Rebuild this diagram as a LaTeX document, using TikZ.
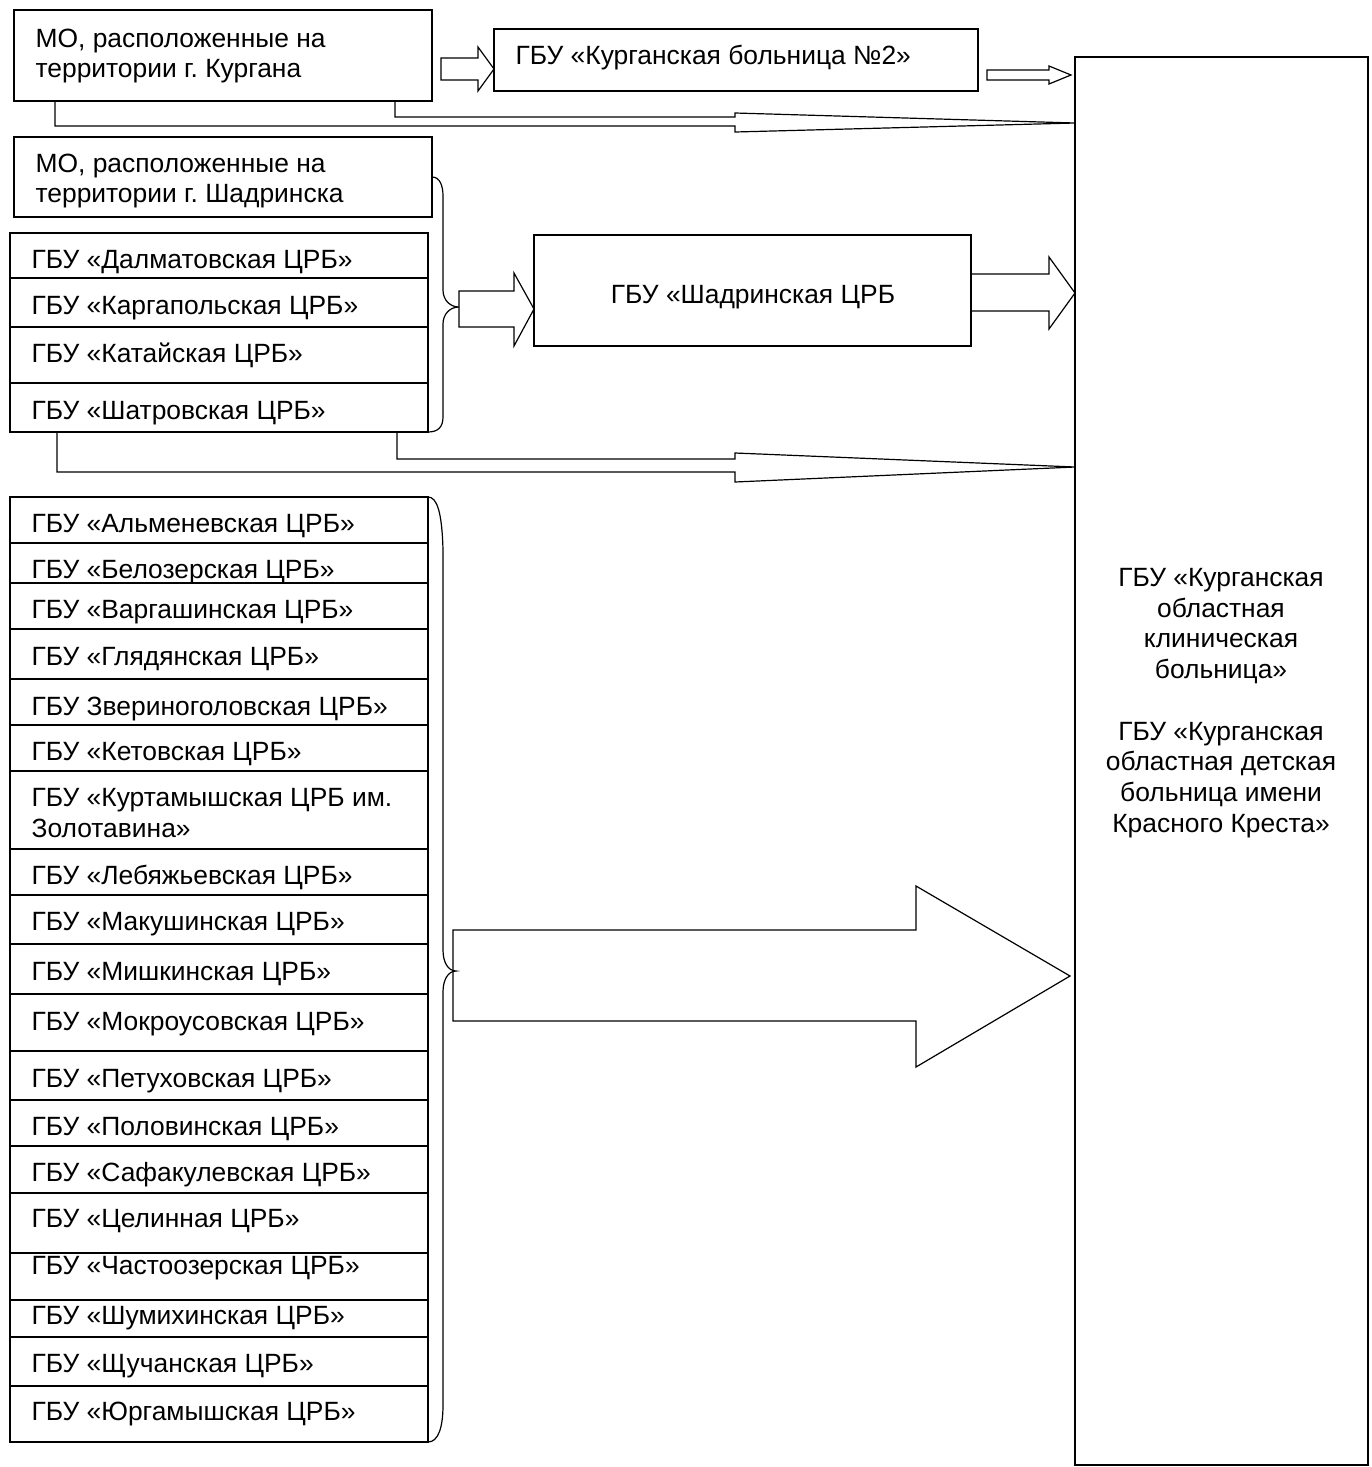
\documentclass[tikz,border=0pt]{standalone}
\usepackage{fontspec}
\setmainfont{Liberation Sans}
\frenchspacing
\begin{document}
\begin{tikzpicture}[x=1pt,y=-1pt,line width=1.2pt,
  box/.style={draw,rectangle,anchor=north west,inner sep=0pt,outer sep=0pt},
  row/.style={box,minimum width=418pt},
  lbl/.style={inner sep=0pt,anchor=base west,font=\fontsize{26.4}{30.5}\selectfont},
  lbl2/.style={inner sep=0pt,anchor=north west,align=left,font=\fontsize{26.4}{30.5}\selectfont},
  txt/.style={align=center,inner sep=0pt,font=\fontsize{26.4}{30.7}\selectfont},
  blockarrow/.style={draw,line join=miter},
  thinarrow/.style={draw,line join=miter},
  bracepath/.style={draw}]
\useasboundingbox (0,0) rectangle (1371,1467);

% ---- top boxes
\node[row,minimum height=91pt] (kurgan) at (14,10) {};
\node[lbl2] (tkurgan) at (35,28) {МО, расположенные на\\территории г. Кургана};
\node[box,minimum width=484pt,minimum height=62pt] (kb2) at (494,29) {};
\node[lbl] (tkb2) at (515,64) {ГБУ «Курганская больница №2»};
\node[box,minimum width=293pt,minimum height=1408pt] (kokb) at (1075,57) {};
\node[txt] (kokbtxt) at (1221,703) {ГБУ «Курганская\\областная\\клиническая\\больница»\\[30.7pt]ГБУ «Курганская\\областная детская\\больница имени\\Красного Креста»};

\node[row,minimum height=80pt] (shadmo) at (14,137) {};
\node[lbl2] (tshadmo) at (35,153) {МО, расположенные на\\территории г. Шадринска};

% ---- list 1
\node[row,minimum height=45pt] (r1) at (10,233) {};
\node[row,minimum height=49pt] (r2) at (10,278) {};
\node[row,minimum height=56pt] (r3) at (10,327) {};
\node[row,minimum height=49pt] (r4) at (10,383) {};
\node[lbl] (tr1) at (31,268) {ГБУ «Далматовская ЦРБ»};
\node[lbl] (tr2) at (31,314) {ГБУ «Каргапольская ЦРБ»};
\node[lbl] (tr3) at (31,362) {ГБУ «Катайская ЦРБ»};
\node[lbl] (tr4) at (31,419) {ГБУ «Шатровская ЦРБ»};

\node[box,minimum width=437pt,minimum height=111pt] (shadcrb) at (534,235) {};
\node[lbl,anchor=base] (tshadcrb) at (753,303) {ГБУ «Шадринская ЦРБ};

% ---- list 2
\node[row,minimum height=46pt] (s1) at (10,497) {};
\node[row,minimum height=40pt] (s2) at (10,543) {};
\node[row,minimum height=46pt] (s3) at (10,583) {};
\node[row,minimum height=50pt] (s4) at (10,629) {};
\node[row,minimum height=46pt] (s5) at (10,679) {};
\node[row,minimum height=46pt] (s6) at (10,725) {};
\node[row,minimum height=78pt] (s7) at (10,771) {};
\node[row,minimum height=46pt] (s8) at (10,849) {};
\node[row,minimum height=49pt] (s9) at (10,895) {};
\node[row,minimum height=50pt] (s10) at (10,944) {};
\node[row,minimum height=57pt] (s11) at (10,994) {};
\node[row,minimum height=49pt] (s12) at (10,1051) {};
\node[row,minimum height=46pt] (s13) at (10,1100) {};
\node[row,minimum height=47pt] (s14) at (10,1146) {};
\node[row,minimum height=60pt] (s15) at (10,1193) {};
\node[row,minimum height=47pt] (s16) at (10,1253) {};
\node[row,minimum height=37pt] (s17) at (10,1300) {};
\node[row,minimum height=49pt] (s18) at (10,1337) {};
\node[row,minimum height=56pt] (s19) at (10,1386) {};

\node[lbl] (ts1) at (31,532) {ГБУ «Альменевская ЦРБ»};
\node[lbl] (ts2) at (31,578) {ГБУ «Белозерская ЦРБ»};
\node[lbl] (ts3) at (31,618) {ГБУ «Варгашинская ЦРБ»};
\node[lbl] (ts4) at (31,665) {ГБУ «Глядянская ЦРБ»};
\node[lbl] (ts5) at (31,715) {ГБУ Звериноголовская ЦРБ»};
\node[lbl] (ts6) at (31,760) {ГБУ «Кетовская ЦРБ»};
\node[lbl2] (ts7) at (31,788) {ГБУ «Куртамышская ЦРБ им.\\Золотавина»};
\node[lbl] (ts8) at (31,884) {ГБУ «Лебяжьевская ЦРБ»};
\node[lbl] (ts9) at (31,930) {ГБУ «Макушинская ЦРБ»};
\node[lbl] (ts10) at (31,980) {ГБУ «Мишкинская ЦРБ»};
\node[lbl] (ts11) at (31,1030) {ГБУ «Мокроусовская ЦРБ»};
\node[lbl] (ts12) at (31,1087) {ГБУ «Петуховская ЦРБ»};
\node[lbl] (ts13) at (31,1135) {ГБУ «Половинская ЦРБ»};
\node[lbl] (ts14) at (31,1181) {ГБУ «Сафакулевская ЦРБ»};
\node[lbl] (ts15) at (31,1227) {ГБУ «Целинная ЦРБ»};
\node[lbl] (ts16) at (31,1274) {ГБУ «Частоозерская ЦРБ»};
\node[lbl] (ts17) at (31,1324) {ГБУ «Шумихинская ЦРБ»};
\node[lbl] (ts18) at (31,1372) {ГБУ «Щучанская ЦРБ»};
\node[lbl] (ts19) at (31,1420) {ГБУ «Юргамышская ЦРБ»};

% ---- block arrows
\draw[blockarrow] (441,58) -- (478,58) -- (478,47) -- (494,69) -- (478,91) -- (478,80) -- (441,80) -- cycle;
\draw[blockarrow] (987,70) -- (1049,70) -- (1049,66) -- (1071,75) -- (1049,84) -- (1049,80) -- (987,80) -- cycle;
\draw[blockarrow] (459,291) -- (514,291) -- (514,273) -- (534,309) -- (514,346) -- (514,327) -- (459,327) -- cycle;
\draw[blockarrow] (971,274) -- (1049,274) -- (1049,257) -- (1075,293) -- (1049,329) -- (1049,311) -- (971,311);
\draw[blockarrow] (453,930) -- (916,930) -- (916,886) -- (1070,976) -- (916,1067) -- (916,1021) -- (453,1021) -- cycle;

% ---- thin long arrows
\draw[thinarrow] (55,101) -- (55,126) -- (735,126) -- (735,132) -- (1075,123) -- (735,113) -- (735,117) -- (395,117) -- (395,101);
\draw[thinarrow] (57,432) -- (57,472) -- (735,472) -- (735,482) -- (1075,467) -- (735,453) -- (735,459) -- (397,459) -- (397,432);

% ---- braces
\coordinate (b1) at (459,307);
\coordinate (b2) at (456,971);
\draw[bracepath] (shadmo.east) .. controls (440,177) and (443,186) .. (443,196) -- (443,290)
  .. controls (443,300) and (450,307) .. (b1)
  .. controls (450,307) and (443,314) .. (443,324) -- (443,417)
  .. controls (443,427) and (438,432) .. (r4.south east);
\draw[bracepath] (s1.north east) .. controls (437,497) and (442,512) .. (443,550) -- (443,950)
  .. controls (443,962) and (448,971) .. (b2)
  .. controls (448,971) and (443,980) .. (443,992) -- (443,1405)
  .. controls (443,1428) and (438,1442) .. (s19.south east);
\end{tikzpicture}
\end{document}
